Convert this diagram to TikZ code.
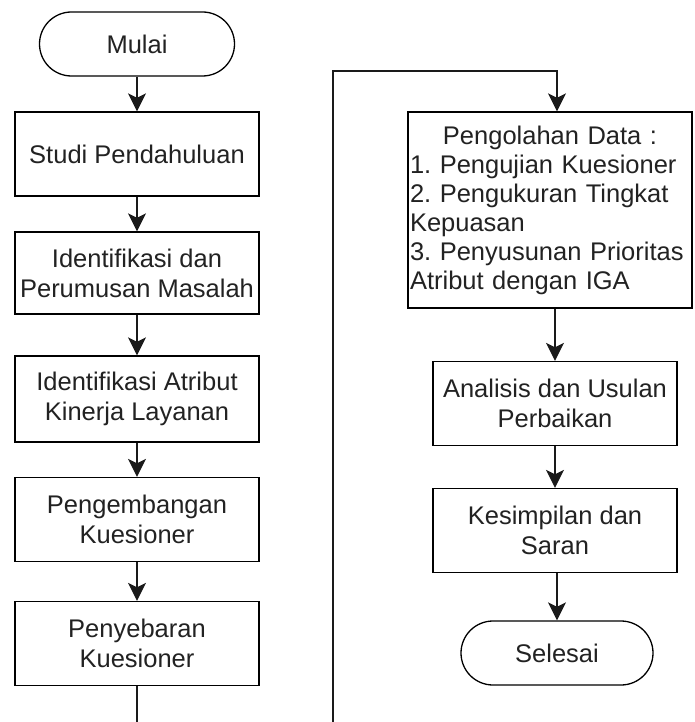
\documentclass[tikz,border=0pt]{standalone}
\usepackage{fontspec}
\setmainfont{Liberation Sans}
\usetikzlibrary{arrows.meta}
\definecolor{txt}{HTML}{222222}
\definecolor{linec}{HTML}{1A1A1A}
\frenchspacing
\begin{document}
\begin{tikzpicture}[x=1pt,y=-1pt,
  box/.style={draw=black, line width=1.3pt, minimum width=244pt, minimum height=84pt,
    align=center, inner sep=2pt, font=\fontsize{25.5}{30}\selectfont\frenchspacing, text=txt},
  term/.style={box, rounded corners=32pt, minimum height=64pt},
  arr/.style={draw=linec, line width=1.4pt, -{Stealth[length=18pt,width=18pt,inset=4.5pt]}},
  ln/.style={draw=linec, line width=1.4pt}]
\fill[white] (0,0) rectangle (694,722);
\useasboundingbox (0,0) rectangle (694,722);

% left column
\node[term, minimum width=195pt] (mulai) at (137,44) {Mulai};
\node[box] (studi) at (137,154) {Studi Pendahuluan};
\node[box, minimum height=82pt] (ident) at (137,273) {Identifikasi dan\\Perumusan Masalah};
\node[box, minimum height=86pt] (atrib) at (137,399) {Identifikasi Atribut\\Kinerja Layanan};
\node[box] (kemb) at (137,519.5) {Pengembangan\\Kuesioner};
\node[box] (sebar) at (137,643.5) {Penyebaran\\Kuesioner};

% right column
\node[box, minimum width=284pt, minimum height=196pt, text width=280pt, align=left,
  font=\fontsize{25.5}{29}\selectfont\frenchspacing] (olah) at (550,210)
  {\makebox[280pt]{Pengolahan Data :}\\1. Pengujian Kuesioner\\2. Pengukuran Tingkat\\Kepuasan\\3. Penyusunan Prioritas\\Atribut dengan IGA};
\node[box] (anal) at (555,403.5) {Analisis dan Usulan\\Perbaikan};
\node[box] (simp) at (555,530.5) {Kesimpilan dan\\Saran};
\node[term, minimum width=192pt] (selesai) at (557,653) {Selesai};

% connectors left
\draw[arr] (mulai) -- (studi);
\draw[arr] (studi) -- (ident);
\draw[arr] (ident) -- (atrib);
\draw[arr] (atrib) -- (kemb);
\draw[arr] (kemb) -- (sebar);
\coordinate (bs) at (137,722);
\draw[ln] (sebar.south) -- (bs);

% connector across
\coordinate (bl) at (333,722);
\coordinate (tl) at (333,71);
\coordinate (tr) at (557,71);
\draw[arr] (bl) -- (tl) -- (tr) -- (tr |- olah.north);

% connectors right
\draw[arr] (anal.north |- olah.south) -- (anal.north);
\draw[arr] (anal) -- (simp);
\draw[arr] (selesai.north |- simp.south) -- (selesai.north);
\end{tikzpicture}
\end{document}
